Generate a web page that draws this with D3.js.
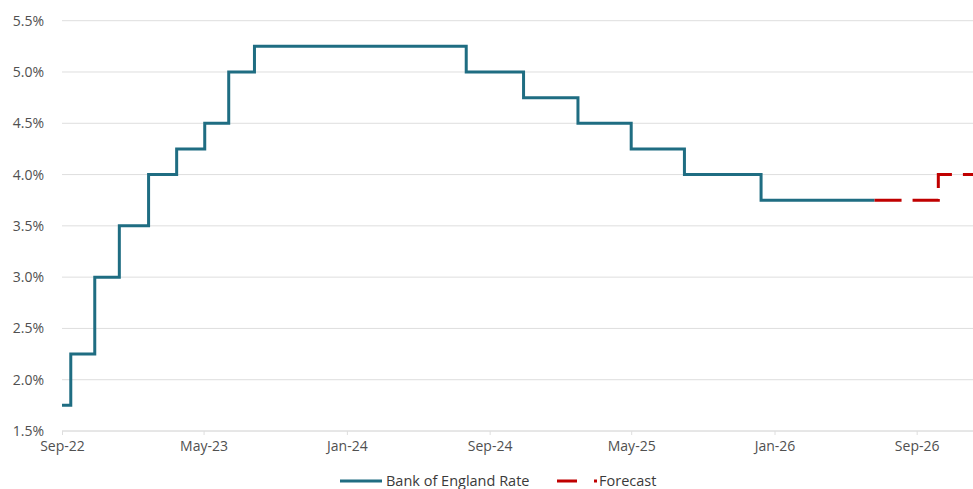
<!DOCTYPE html>
<html>
<head>
<meta charset="utf-8">
<script src="https://cdn.jsdelivr.net/npm/d3@7"></script>
<style>
  html, body { margin: 0; padding: 0; background: #ffffff; }
  svg { display: block; font-family: "Open Sans", "Noto Sans", sans-serif; }
</style>
</head>
<body>
<svg id="chart" width="973" height="489"></svg>
<script>
// Bank Rate decision dates and the rate that applies from each date
const rateDates  = ["2022-09-01", "2022-09-16", "2022-10-27", "2022-12-08", "2023-01-27",
                    "2023-03-16", "2023-05-03", "2023-06-13", "2023-07-27", "2024-07-23",
                    "2024-10-29", "2025-01-30", "2025-05-01", "2025-07-31", "2025-12-09",
                    "2026-06-21"];
const rateValues = [1.75, 2.25, 3.00, 3.50, 4.00,
                    4.25, 4.50, 5.00, 5.25, 5.00,
                    4.75, 4.50, 4.25, 4.00, 3.75,
                    3.75];

// Forecast path
const forecastDates  = ["2026-06-21", "2026-10-08", "2026-12-08"];
const forecastValues = [3.75, 4.00, 4.00];

// Axis ticks
const xTickDates = ["2022-09-01", "2023-05-01", "2024-01-01", "2024-09-01",
                    "2025-05-01", "2026-01-01", "2026-09-01"];
const yTickValues = [1.5, 2.0, 2.5, 3.0, 3.5, 4.0, 4.5, 5.0, 5.5];
const xDomain = ["2022-09-01", "2026-12-08"];
const yDomain = [1.5, 5.5];

const seriesNames = ["Bank of England Rate", "Forecast"];

const parse = d3.utcParse("%Y-%m-%d");
const rate = rateDates.map((d, i) => ({ date: parse(d), value: rateValues[i] }));
const forecast = forecastDates.map((d, i) => ({ date: parse(d), value: forecastValues[i] }));

const svg = d3.select("#chart");
const plotLeft = 62, plotRight = 974, plotTop = 20.7, plotBottom = 431;

const x = d3.scaleUtc().domain(xDomain.map(parse)).range([plotLeft, plotRight]);
const y = d3.scaleLinear().domain(yDomain).range([plotBottom, plotTop]);

const teal = "#1f6d82";
const red = "#c00000";
const grid = "#dedede";

// Horizontal gridlines
svg.append("g")
  .selectAll("line")
  .data(yTickValues)
  .join("line")
  .attr("x1", plotLeft).attr("x2", 973)
  .attr("y1", d => y(d)).attr("y2", d => y(d))
  .attr("stroke", grid).attr("stroke-width", 1);

// Y axis labels
const yAxis = d3.axisLeft(y)
  .tickValues(yTickValues)
  .tickFormat(d => d3.format(".1f")(d) + "%")
  .tickSize(0)
  .tickPadding(18);
svg.append("g")
  .attr("transform", `translate(${plotLeft},0)`)
  .call(yAxis)
  .call(g => g.select(".domain").remove())
  .call(g => g.selectAll("text")
    .attr("fill", "#505050")
    .style("font-size", "14px")
    .style("font-family", "'Open Sans', sans-serif"));

// X axis
const xAxis = d3.axisBottom(x)
  .tickValues(xTickDates.map(parse))
  .tickFormat(d3.utcFormat("%b-%y"))
  .tickSize(4)
  .tickPadding(6);
svg.append("g")
  .attr("transform", `translate(0,${plotBottom})`)
  .call(xAxis)
  .call(g => g.select(".domain").attr("stroke", grid).attr("d", `M${plotLeft},0H973`))
  .call(g => g.selectAll(".tick line").attr("stroke", grid))
  .call(g => g.selectAll("text")
    .attr("fill", "#505050")
    .style("font-size", "14px")
    .style("font-family", "'Open Sans', sans-serif"));

// Step lines
const line = d3.line()
  .x(d => x(d.date))
  .y(d => y(d.value))
  .curve(d3.curveStepAfter);

svg.append("path")
  .datum(rate)
  .attr("fill", "none")
  .attr("stroke", teal)
  .attr("stroke-width", 3)
  .attr("stroke-linejoin", "miter")
  .attr("d", line);

svg.append("path")
  .datum(forecast)
  .attr("fill", "none")
  .attr("stroke", red)
  .attr("stroke-width", 3)
  .attr("stroke-dasharray", "27,11")
  .attr("d", line);

// Legend
const legend = svg.append("g").attr("transform", "translate(0,481)");
legend.append("line")
  .attr("x1", 340).attr("x2", 382).attr("y1", 0).attr("y2", 0)
  .attr("stroke", teal).attr("stroke-width", 3);
legend.append("text")
  .attr("x", 386).attr("y", 0).attr("dy", "0.33em")
  .attr("fill", "#3a3a3a").style("font-size", "14.5px")
  .text(seriesNames[0]);
legend.append("line")
  .attr("x1", 557).attr("x2", 597).attr("y1", 0).attr("y2", 0)
  .attr("stroke", red).attr("stroke-width", 3)
  .attr("stroke-dasharray", "20,17");
legend.append("text")
  .attr("x", 599).attr("y", 0).attr("dy", "0.33em")
  .attr("fill", "#3a3a3a").style("font-size", "14.5px")
  .text(seriesNames[1]);
</script>
</body>
</html>
